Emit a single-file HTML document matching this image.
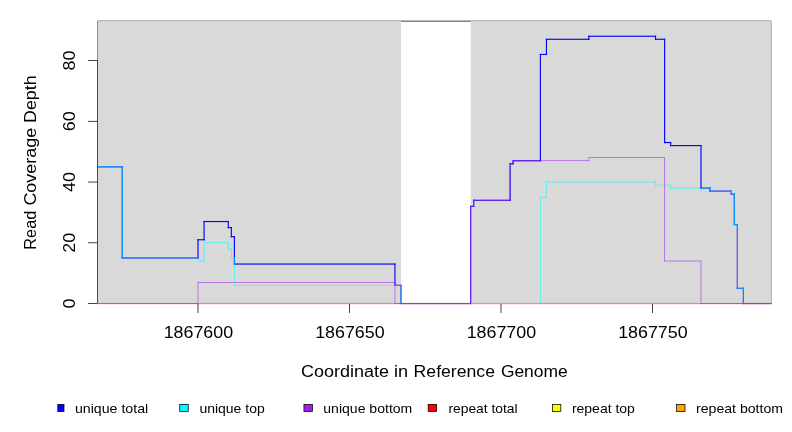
<!DOCTYPE html>
<html><head><meta charset="utf-8"><title>coverage</title>
<style>html,body{margin:0;padding:0;background:#fff}svg{display:block}</style></head>
<body>
<svg width="792" height="432" viewBox="0 0 792 432" style="will-change:transform">
<defs><clipPath id="pc"><rect x="97.50" y="21.10" width="673.775" height="285.44"/></clipPath><clipPath id="lc"><rect x="57.3" y="395" width="740" height="30"/></clipPath></defs>
<rect width="792" height="432" fill="#fff"/>
<g fill="#000"><rect x="97.500" y="20.725" width="673.400" height="0.750"/><rect x="97.500" y="303.165" width="673.400" height="0.750"/><rect x="97.125" y="21.100" width="0.750" height="282.440"/><rect x="770.525" y="21.100" width="0.750" height="282.815"/></g>
<rect x="97.50" y="21.10" width="303.51" height="282.44" fill="#d9d9d9"/>
<rect x="470.70" y="21.10" width="300.20" height="282.44" fill="#d9d9d9"/>
<g fill="#000"><rect x="97.125" y="60.165" width="0.750" height="243.750" fill-opacity="0.6"/><rect x="88.140" y="303.165" width="9.360" height="0.750"/><rect x="88.140" y="242.415" width="9.360" height="0.750"/><rect x="88.140" y="181.665" width="9.360" height="0.750"/><rect x="88.140" y="120.915" width="9.360" height="0.750"/><rect x="88.140" y="60.165" width="9.360" height="0.750"/><rect x="197.625" y="303.165" width="455.250" height="0.750"/><rect x="197.625" y="303.540" width="0.750" height="9.360"/><rect x="349.125" y="303.540" width="0.750" height="9.360"/><rect x="500.625" y="303.540" width="0.750" height="9.360"/><rect x="652.125" y="303.540" width="0.750" height="9.360"/></g>
<g clip-path="url(#pc)">
<g fill="#ff0000"><rect x="93.937" y="302.978" width="680.525" height="1.125"/></g>
<g fill="#ffff00"><rect x="94.237" y="303.278" width="679.925" height="0.525"/></g>
<g fill="#ffa500"><rect x="94.237" y="303.278" width="679.925" height="0.525"/></g>
<g fill="#0000ff"><rect x="93.937" y="166.290" width="28.875" height="1.125"/><rect x="121.688" y="166.290" width="1.125" height="92.250"/><rect x="121.688" y="257.415" width="76.875" height="1.125"/><rect x="197.438" y="239.190" width="1.125" height="19.350"/><rect x="197.438" y="239.190" width="7.185" height="1.125"/><rect x="203.498" y="220.965" width="1.125" height="19.350"/><rect x="203.498" y="220.965" width="25.365" height="1.125"/><rect x="227.738" y="220.965" width="1.125" height="7.200"/><rect x="227.738" y="227.040" width="4.155" height="1.125"/><rect x="230.767" y="227.040" width="1.125" height="10.238"/><rect x="230.767" y="236.153" width="4.155" height="1.125"/><rect x="233.798" y="236.153" width="1.125" height="28.462"/><rect x="233.798" y="263.490" width="161.715" height="1.125"/><rect x="394.387" y="263.490" width="1.125" height="22.387"/><rect x="394.387" y="284.752" width="7.185" height="1.125"/><rect x="400.447" y="284.752" width="1.125" height="19.350"/><rect x="400.447" y="302.978" width="70.815" height="1.125"/><rect x="470.137" y="205.778" width="1.125" height="98.325"/><rect x="470.137" y="205.778" width="4.155" height="1.125"/><rect x="473.167" y="199.703" width="1.125" height="7.200"/><rect x="473.167" y="199.703" width="37.485" height="1.125"/><rect x="509.527" y="163.253" width="1.125" height="37.575"/><rect x="509.527" y="163.253" width="4.155" height="1.125"/><rect x="512.558" y="160.215" width="1.125" height="4.163"/><rect x="512.558" y="160.215" width="28.395" height="1.125"/><rect x="539.827" y="53.903" width="1.125" height="107.438"/><rect x="539.827" y="53.903" width="7.185" height="1.125"/><rect x="545.888" y="38.715" width="1.125" height="16.312"/><rect x="545.888" y="38.715" width="43.545" height="1.125"/><rect x="588.307" y="35.678" width="1.125" height="4.163"/><rect x="588.307" y="35.678" width="67.785" height="1.125"/><rect x="654.967" y="35.678" width="1.125" height="4.163"/><rect x="654.967" y="38.715" width="10.215" height="1.125"/><rect x="664.057" y="38.715" width="1.125" height="104.400"/><rect x="664.057" y="141.990" width="7.185" height="1.125"/><rect x="670.117" y="141.990" width="1.125" height="4.162"/><rect x="670.117" y="145.028" width="31.425" height="1.125"/><rect x="700.418" y="145.028" width="1.125" height="43.650"/><rect x="700.418" y="187.553" width="10.215" height="1.125"/><rect x="709.507" y="187.553" width="1.125" height="4.163"/><rect x="709.507" y="190.590" width="22.335" height="1.125"/><rect x="730.717" y="190.590" width="1.125" height="4.162"/><rect x="730.717" y="193.627" width="4.155" height="1.125"/><rect x="733.747" y="193.627" width="1.125" height="31.500"/><rect x="733.747" y="224.002" width="4.155" height="1.125"/><rect x="736.777" y="224.002" width="1.125" height="64.913"/><rect x="736.777" y="287.790" width="7.185" height="1.125"/><rect x="742.837" y="287.790" width="1.125" height="16.312"/><rect x="742.837" y="302.978" width="31.625" height="1.125"/></g>
<g fill="#00ffff"><rect x="94.237" y="166.590" width="28.275" height="0.525"/><rect x="121.987" y="166.590" width="0.525" height="91.650"/><rect x="121.987" y="257.715" width="76.275" height="0.525"/><rect x="197.738" y="257.715" width="0.525" height="3.562"/><rect x="197.738" y="260.753" width="6.585" height="0.525"/><rect x="203.798" y="242.528" width="0.525" height="18.750"/><rect x="203.798" y="242.528" width="24.765" height="0.525"/><rect x="228.038" y="242.528" width="0.525" height="6.600"/><rect x="228.038" y="248.603" width="3.555" height="0.525"/><rect x="231.067" y="248.603" width="0.525" height="9.637"/><rect x="231.067" y="257.715" width="3.555" height="0.525"/><rect x="234.098" y="257.715" width="0.525" height="27.862"/><rect x="234.098" y="285.053" width="167.175" height="0.525"/><rect x="400.748" y="285.053" width="0.525" height="18.750"/><rect x="400.748" y="303.278" width="139.905" height="0.525"/><rect x="540.127" y="196.965" width="0.525" height="106.837"/><rect x="540.127" y="196.965" width="6.585" height="0.525"/><rect x="546.188" y="181.778" width="0.525" height="15.712"/><rect x="546.188" y="181.778" width="109.605" height="0.525"/><rect x="655.267" y="181.778" width="0.525" height="3.562"/><rect x="655.267" y="184.815" width="15.675" height="0.525"/><rect x="670.417" y="184.815" width="0.525" height="3.562"/><rect x="670.417" y="187.853" width="39.915" height="0.525"/><rect x="709.807" y="187.853" width="0.525" height="3.562"/><rect x="709.807" y="190.890" width="21.735" height="0.525"/><rect x="731.017" y="190.890" width="0.525" height="3.562"/><rect x="731.017" y="193.928" width="3.555" height="0.525"/><rect x="734.047" y="193.928" width="0.525" height="30.900"/><rect x="734.047" y="224.303" width="3.555" height="0.525"/><rect x="737.077" y="224.303" width="0.525" height="64.312"/><rect x="737.077" y="288.090" width="6.585" height="0.525"/><rect x="743.137" y="288.090" width="0.525" height="15.712"/><rect x="743.137" y="303.278" width="31.025" height="0.525"/></g>
<g fill="#a020f0"><rect x="94.237" y="303.278" width="104.025" height="0.525"/><rect x="197.738" y="282.015" width="0.525" height="21.787"/><rect x="197.738" y="282.015" width="197.475" height="0.525"/><rect x="394.688" y="282.015" width="0.525" height="21.787"/><rect x="394.688" y="303.278" width="76.275" height="0.525"/><rect x="470.438" y="206.078" width="0.525" height="97.725"/><rect x="470.438" y="206.078" width="3.555" height="0.525"/><rect x="473.467" y="200.003" width="0.525" height="6.600"/><rect x="473.467" y="200.003" width="36.885" height="0.525"/><rect x="509.827" y="163.553" width="0.525" height="36.975"/><rect x="509.827" y="163.553" width="3.555" height="0.525"/><rect x="512.857" y="160.515" width="0.525" height="3.562"/><rect x="512.857" y="160.515" width="76.275" height="0.525"/><rect x="588.607" y="157.478" width="0.525" height="3.562"/><rect x="588.607" y="157.478" width="76.275" height="0.525"/><rect x="664.357" y="157.478" width="0.525" height="103.800"/><rect x="664.357" y="260.753" width="36.885" height="0.525"/><rect x="700.717" y="260.753" width="0.525" height="43.050"/><rect x="700.717" y="303.278" width="73.445" height="0.525"/></g>
</g>
<g font-family="Liberation Sans, sans-serif" fill="#000">
<text x="198.40" y="338.0" font-size="16.0" text-anchor="middle" textLength="69.4" lengthAdjust="spacingAndGlyphs">1867600</text>
<text x="349.90" y="338.0" font-size="16.0" text-anchor="middle" textLength="69.4" lengthAdjust="spacingAndGlyphs">1867650</text>
<text x="501.40" y="338.0" font-size="16.0" text-anchor="middle" textLength="69.4" lengthAdjust="spacingAndGlyphs">1867700</text>
<text x="652.90" y="338.0" font-size="16.0" text-anchor="middle" textLength="69.4" lengthAdjust="spacingAndGlyphs">1867750</text>
<text transform="translate(74.7 303.54) rotate(-90)" font-size="16.0" text-anchor="middle" textLength="9.92" lengthAdjust="spacingAndGlyphs">0</text>
<text transform="translate(74.7 242.79) rotate(-90)" font-size="16.0" text-anchor="middle" textLength="19.84" lengthAdjust="spacingAndGlyphs">20</text>
<text transform="translate(74.7 182.04) rotate(-90)" font-size="16.0" text-anchor="middle" textLength="19.84" lengthAdjust="spacingAndGlyphs">40</text>
<text transform="translate(74.7 121.29) rotate(-90)" font-size="16.0" text-anchor="middle" textLength="19.84" lengthAdjust="spacingAndGlyphs">60</text>
<text transform="translate(74.7 60.54) rotate(-90)" font-size="16.0" text-anchor="middle" textLength="19.84" lengthAdjust="spacingAndGlyphs">80</text>
<text x="301.00" y="376.8" font-size="16.0" textLength="88.00" lengthAdjust="spacingAndGlyphs">Coordinate</text>
<text x="394.00" y="376.8" font-size="16.0" textLength="14.10" lengthAdjust="spacingAndGlyphs">in</text>
<text x="413.60" y="376.8" font-size="16.0" textLength="81.40" lengthAdjust="spacingAndGlyphs">Reference</text>
<text x="500.90" y="376.8" font-size="16.0" textLength="66.80" lengthAdjust="spacingAndGlyphs">Genome</text>
<text transform="translate(35.8 249.70) rotate(-90)" font-size="16.0" textLength="39.00" lengthAdjust="spacingAndGlyphs">Read</text>
<text transform="translate(35.8 205.60) rotate(-90)" font-size="16.0" textLength="77.90" lengthAdjust="spacingAndGlyphs">Coverage</text>
<text transform="translate(35.8 123.00) rotate(-90)" font-size="16.0" textLength="47.60" lengthAdjust="spacingAndGlyphs">Depth</text>
</g>
<g clip-path="url(#lc)">
<rect x="55.55" y="404.4" width="8.45" height="7.0" fill="#0000ff" stroke="#000" stroke-width="0.75"/>
<rect x="179.75" y="404.4" width="8.45" height="7.0" fill="#00ffff" stroke="#000" stroke-width="0.75"/>
<rect x="303.95" y="404.4" width="8.45" height="7.0" fill="#a020f0" stroke="#000" stroke-width="0.75"/>
<rect x="428.16" y="404.4" width="8.45" height="7.0" fill="#ff0000" stroke="#000" stroke-width="0.75"/>
<rect x="552.36" y="404.4" width="8.45" height="7.0" fill="#ffff00" stroke="#000" stroke-width="0.75"/>
<rect x="676.55" y="404.4" width="8.45" height="7.0" fill="#ffa500" stroke="#000" stroke-width="0.75"/>
</g>
<rect x="419.3" y="403.0" width="1.2" height="0.6" fill="#c8c8c8"/>
<g font-family="Liberation Sans, sans-serif" fill="#000" font-size="12.8">
<text x="74.90" y="412.9" textLength="73.30" lengthAdjust="spacingAndGlyphs">unique total</text>
<text x="199.40" y="412.9" textLength="65.30" lengthAdjust="spacingAndGlyphs">unique top</text>
<text x="323.30" y="412.9" textLength="89.00" lengthAdjust="spacingAndGlyphs">unique bottom</text>
<text x="448.50" y="412.9" textLength="69.00" lengthAdjust="spacingAndGlyphs">repeat total</text>
<text x="571.90" y="412.9" textLength="63.00" lengthAdjust="spacingAndGlyphs">repeat top</text>
<text x="696.10" y="412.9" textLength="86.90" lengthAdjust="spacingAndGlyphs">repeat bottom</text>
</g>
</svg>
</body></html>
